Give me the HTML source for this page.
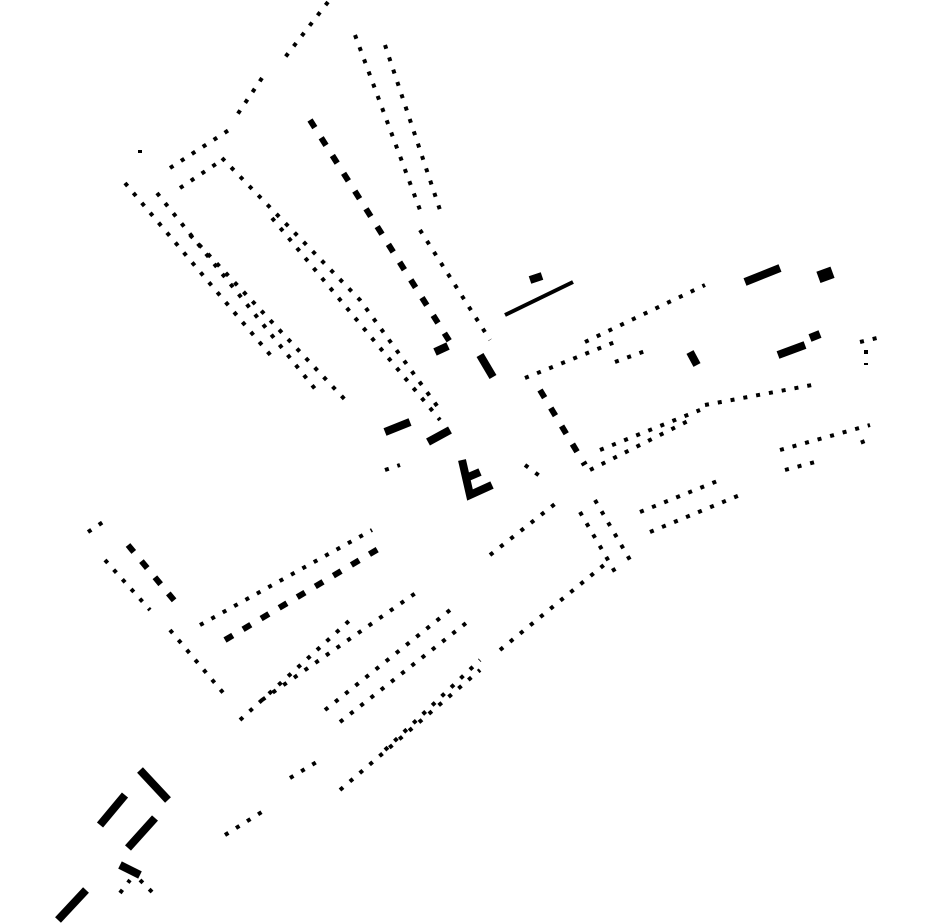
<!DOCTYPE html>
<html><head><meta charset="utf-8"><style>
html,body{margin:0;padding:0;background:#fff;width:930px;height:924px;overflow:hidden}
svg{display:block}
.d{fill:none;stroke:#000;stroke-width:4;stroke-dasharray:4 9}
.t{fill:none;stroke:#000;stroke-width:6;stroke-dasharray:9 12}
.s{fill:none;stroke:#000;stroke-width:4}
.k{fill:none;stroke:#000;stroke-width:8}
</style></head><body>
<svg width="930" height="924" viewBox="0 0 930 924">
<polyline class="d" points="328,2 283,60"/>
<polyline class="d" points="262,78 237,115"/>
<polyline class="d" points="170,168 232,128"/>
<polyline class="d" points="180,188 222,160"/>
<polyline class="d" points="125,183 272,357"/>
<polyline class="d" points="157,193 320,395"/>
<polyline class="d" points="190,235 350,405"/>
<polyline class="d" points="222,158 360,300 440,410"/>
<polyline class="d" points="272,218 440,420"/>
<polyline class="d" points="355,35 420,210"/>
<polyline class="d" points="385,45 440,210"/>
<polyline class="t" points="310,120 455,350"/>
<polyline class="d" points="420,230 490,340"/>
<polyline class="d" points="140,150 140,153"/>
<polyline class="s" points="505,315 573,282"/>
<polyline class="k" points="530,280 542,276"/>
<polyline class="k" points="745,282 780,268"/>
<rect x="818" y="269" width="15" height="12" transform="rotate(-20 825 275)"/>
<polyline class="d" points="585,342 705,285"/>
<polyline class="d" points="525,378 620,340"/>
<polyline class="d" points="615,362 648,350"/>
<polyline class="k" points="778,355 805,345"/>
<polyline class="k" points="810,338 820,334"/>
<polyline class="k" points="690,352 697,365"/>
<polyline class="d" points="705,405 812,385"/>
<polyline class="d" points="590,470 690,420"/>
<polyline class="d" points="600,450 700,410"/>
<polyline class="d" points="640,512 720,480"/>
<polyline class="d" points="650,532 740,495"/>
<polyline class="d" points="780,450 870,425"/>
<polyline class="d" points="785,470 815,462"/>
<polyline class="d" points="860,342 877,338"/>
<polyline class="d" points="866,350 866,365"/>
<polyline class="d" points="862,440 865,448"/>
<polyline class="k" points="385,432 410,422"/>
<polyline class="k" points="428,442 450,430"/>
<polyline class="k" points="435,352 448,346"/>
<polyline class="k" points="480,355 493,377"/>
<polyline class="k" points="462,460 470,495 492,485"/>
<polyline class="k" points="466,478 480,472"/>
<polyline class="t" points="540,390 585,465"/>
<polyline class="d" points="525,465 545,480"/>
<polyline class="d" points="595,500 630,560"/>
<polyline class="d" points="580,512 615,572"/>
<polyline class="d" points="490,555 560,500"/>
<polyline class="d" points="385,470 400,465"/>
<polyline class="d" points="88,532 106,520"/>
<polyline class="t" points="128,545 178,605"/>
<polyline class="d" points="105,560 150,610"/>
<polyline class="d" points="200,625 372,530"/>
<polyline class="t" points="225,640 385,545"/>
<polyline class="d" points="170,630 225,695"/>
<polyline class="d" points="240,720 350,620"/>
<polyline class="d" points="262,700 420,590"/>
<polyline class="d" points="325,710 450,610"/>
<polyline class="d" points="340,722 470,620"/>
<polyline class="d" points="500,650 610,560"/>
<polyline class="d" points="340,790 480,670"/>
<polyline class="d" points="385,750 480,660"/>
<polyline class="d" points="290,778 320,760"/>
<polyline class="k" points="140,770 168,800"/>
<polyline class="k" points="100,825 125,795"/>
<polyline class="k" points="128,848 155,818"/>
<polyline class="k" points="58,920 86,890"/>
<polyline class="k" points="120,865 140,875"/>
<polyline class="d" points="120,893 130,880"/>
<polyline class="d" points="140,880 158,898"/>
<polyline class="d" points="225,835 265,810"/>
</svg>
</body></html>
